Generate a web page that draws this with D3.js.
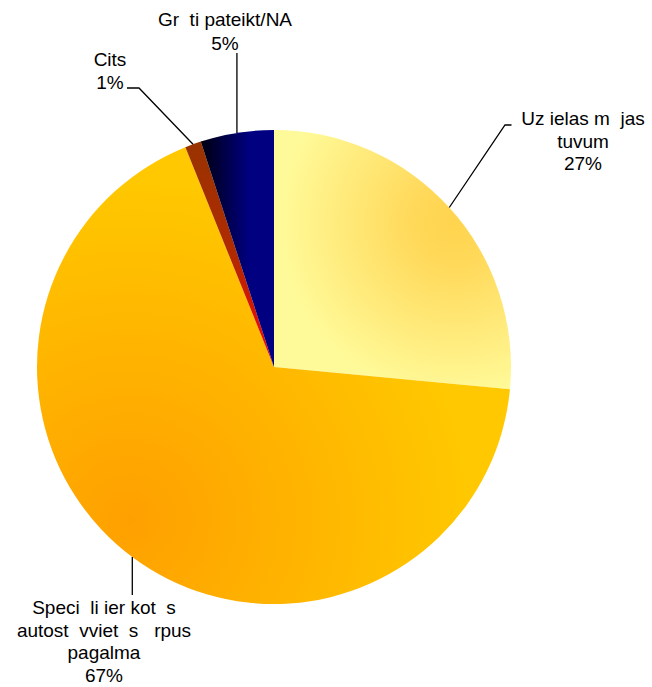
<!DOCTYPE html>
<html>
<head>
<meta charset="utf-8">
<script src="https://cdn.jsdelivr.net/npm/d3@7"></script>
<style>
  html, body { margin: 0; padding: 0; background: #fff; }
  svg { display: block; }
  text { font-family: "Liberation Sans", Arial, sans-serif; font-size: 19px; fill: #000; white-space: pre; }
</style>
</head>
<body>
<svg id="chart" width="652" height="687"></svg>
<script>
// ---- data ----
const categories = ["Uz ielas m  jas|tuvum", "Speci  li ier kot  s|autost  vviet  s   rpus|pagalma", "Cits", "Gr  ti pateikt/NA"];
const values = [26.5, 67.4, 1.1, 5.0];
const percentLabels = ["27%", "67%", "1%", "5%"];

// ---- layout / style ----
const W = 652, H = 687;
const cx = 274, cy = 367, R = 237;
const svg = d3.select("#chart");
const defs = svg.append("defs");

// gradients (coords relative to pie centre)
const yel = defs.append("radialGradient").attr("id", "g0").attr("gradientUnits", "userSpaceOnUse")
  .attr("cx", 181).attr("cy", -145).attr("r", 175);
yel.append("stop").attr("offset", 0).attr("stop-color", "#FFD44E");
yel.append("stop").attr("offset", 0.25).attr("stop-color", "#FFD95A");
yel.append("stop").attr("offset", 1).attr("stop-color", "#FFFA99");

const ora = defs.append("radialGradient").attr("id", "g1").attr("gradientUnits", "userSpaceOnUse")
  .attr("cx", -144).attr("cy", 153).attr("r", 340);
ora.append("stop").attr("offset", 0).attr("stop-color", "#FFA000");
ora.append("stop").attr("offset", 1).attr("stop-color", "#FFC800");

const red = defs.append("linearGradient").attr("id", "g2").attr("gradientUnits", "userSpaceOnUse")
  .attr("x1", 0).attr("y1", -225).attr("x2", 0).attr("y2", 0);
red.append("stop").attr("offset", 0).attr("stop-color", "#993300");
red.append("stop").attr("offset", 0.5).attr("stop-color", "#B02A00");
red.append("stop").attr("offset", 1).attr("stop-color", "#FF0000");

const nav = defs.append("linearGradient").attr("id", "g3").attr("gradientUnits", "userSpaceOnUse")
  .attr("x1", -73).attr("y1", 0).attr("x2", -25).attr("y2", 0);
nav.append("stop").attr("offset", 0).attr("stop-color", "#000010");
nav.append("stop").attr("offset", 1).attr("stop-color", "#000080");

const fills = ["url(#g0)", "url(#g1)", "url(#g2)", "url(#g3)"];

const pie = d3.pie().sort(null).value(d => d)(values);
const arc = d3.arc().innerRadius(0).outerRadius(R);

const g = svg.append("g").attr("transform", `translate(${cx},${cy})`);
g.selectAll("path.slice").data(pie).join("path")
  .attr("class", "slice")
  .attr("d", arc)
  .attr("fill", (d, i) => fills[i]);

// label layout (positions are styling)
const labelLayout = [
  { x: 583, y: 125, lh: 22.5, elbow: [[505, 125], [511.5, 125]] },
  { x: 104, y: 614, lh: 22.5, elbow: [[133, 595]] },
  { x: 110, y: 66, lh: 23, elbow: [[139, 88], [127, 88]] },
  { x: 225, y: 26, lh: 24, elbow: [[237, 53]] }
];

pie.forEach((d, i) => {
  const a = (d.startAngle + d.endAngle) / 2;
  const px = cx + R * Math.sin(a), py = cy - R * Math.cos(a);
  const L = labelLayout[i];
  let pts = [[px, py]].concat(L.elbow);
  if (i === 1) pts = [[px, py], [px, L.elbow[0][1]]];
  if (i === 3) pts = [[px, py], [px, L.elbow[0][1]]];
  svg.append("path")
    .attr("d", d3.line()(pts))
    .attr("fill", "none").attr("stroke", "#000").attr("stroke-width", 1.3);
  const lines = categories[i].split("|").concat([percentLabels[i]]);
  const t = svg.append("text").attr("text-anchor", "middle");
  lines.forEach((s, k) => {
    t.append("tspan").attr("x", L.x).attr("y", L.y + k * L.lh).text(s);
  });
});
</script>
</body>
</html>
